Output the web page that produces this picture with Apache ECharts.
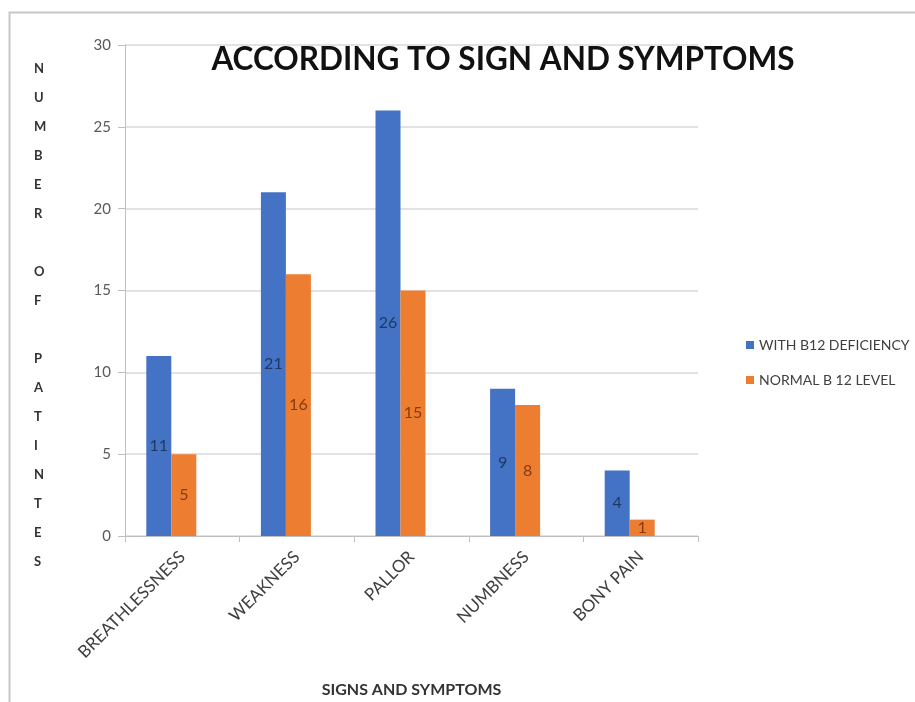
<!DOCTYPE html>
<html>
<head>
<meta charset="utf-8">
<script src="https://cdn.jsdelivr.net/npm/echarts@6/dist/echarts.min.js"></script>
<style>
  html, body { margin: 0; padding: 0; background: #fff; }
  #chart { width: 915px; height: 702px; }
</style>
</head>
<body>
<div id="chart"></div>
<script>
const categories = ['BREATHLESSNESS', 'WEAKNESS', 'PALLOR', 'NUMBNESS', 'BONY PAIN']
const withDeficiency = [11, 21, 26, 9, 4]
const normalLevel = [5, 16, 15, 8, 1]
const yTicks = [0, 5, 10, 15, 20, 25, 30]
const yTitle = 'NUMBER OF PATINTES'

const chart = echarts.init(document.getElementById('chart'))

const option = {
  backgroundColor: '#fff',
  animation: false,
  title: {
    text: 'ACCORDING TO SIGN AND SYMPTOMS',
    left: 498,
    textAlign: 'center',
    top: 39,
    textStyle: {
      fontFamily: 'Lato',
      fontSize: 31.5,
      fontWeight: 'bold',
      color: '#111'
    }
  },
  legend: {
    data: ['WITH B12 DEFICIENCY', 'NORMAL B 12 LEVEL'],
    orient: 'vertical',
    left: 741,
    top: 333,
    itemWidth: 8,
    itemHeight: 8,
    itemGap: 21,
    icon: 'rect',
    textStyle: {
      fontFamily: 'Lato',
      fontSize: 14,
      color: '#404040'
    }
  },
  grid: {
    left: 125,
    right: 217,
    top: 45,
    bottom: 166,
    outerBoundsMode: 'none'
  },
  xAxis: {
    type: 'category',
    data: categories,
    name: 'SIGNS AND SYMPTOMS',
    nameLocation: 'middle',
    nameGap: 146,
    nameTextStyle: {
      fontFamily: 'Lato',
      fontSize: 16,
      fontWeight: 'bold',
      color: '#333'
    },
    axisLine: { lineStyle: { color: '#bfbfbf', width: 1 } },
    axisTick: { show: true, length: 6, lineStyle: { color: '#bfbfbf' } },
    axisLabel: {
      rotate: 45,
      margin: 18,
      fontFamily: 'Lato',
      fontSize: 17,
      color: '#404040'
    }
  },
  yAxis: {
    type: 'value',
    min: yTicks[0],
    max: yTicks[yTicks.length - 1],
    interval: 5,
    axisLine: { show: true, lineStyle: { color: '#bfbfbf' } },
    axisTick: { show: true, length: 7, lineStyle: { color: '#bfbfbf' } },
    axisLabel: {
      margin: 14,
      fontFamily: 'Lato',
      fontSize: 15,
      color: '#595959'
    },
    splitLine: { lineStyle: { color: '#d9d9d9', width: 1.5 } }
  },
  series: [
    {
      name: 'WITH B12 DEFICIENCY',
      type: 'bar',
      data: withDeficiency,
      barWidth: 25,
      barGap: '0%',
      itemStyle: { color: '#4472c4' },
      label: {
        show: true,
        position: 'inside',
        fontFamily: 'Lato',
        fontSize: 16,
        color: '#1f3864'
      }
    },
    {
      name: 'NORMAL B 12 LEVEL',
      type: 'bar',
      data: normalLevel,
      barWidth: 25,
      barGap: '0%',
      itemStyle: { color: '#ed7d31' },
      label: {
        show: true,
        position: 'inside',
        fontFamily: 'Lato',
        fontSize: 16,
        color: '#843c0c'
      }
    },
    {
      // empty slot, the source chart keeps its bar pairs left of the category centre
      name: 'spacer',
      type: 'bar',
      data: [],
      barWidth: 22,
      barGap: '0%',
      silent: true
    }
  ],
  graphic: [
    {
      type: 'rect',
      left: 7,
      top: 10,
      shape: { width: 920, height: 700 },
      style: { fill: 'none', stroke: '#c8c8c8', lineWidth: 2 },
      silent: true
    },
    {
      type: 'text',
      left: 34,
      top: 54,
      style: {
        text: yTitle.split('').join('\n'),
        fontFamily: 'Lato',
        fontSize: 13,
        fontWeight: 'bold',
        lineHeight: 29,
        align: 'center',
        fill: '#333'
      }
    }
  ]
}

chart.setOption(option)
</script>
</body>
</html>
